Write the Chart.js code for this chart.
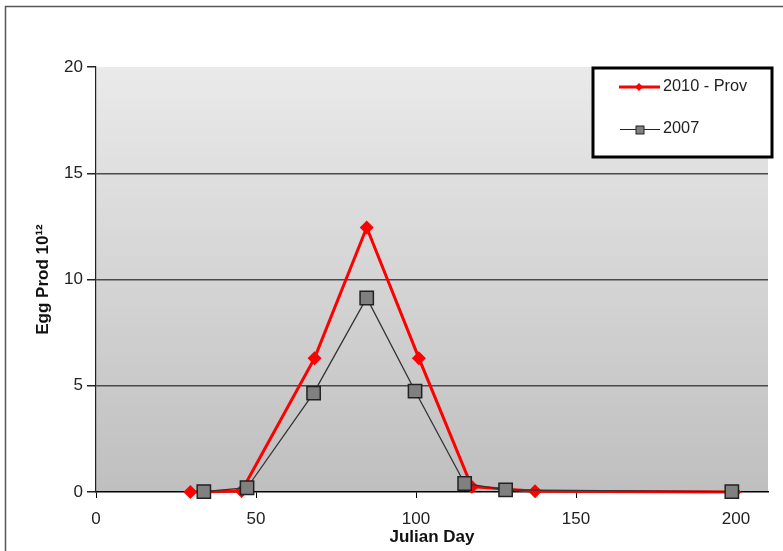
<!DOCTYPE html>
<html>
<head>
<meta charset="utf-8">
<script src="https://cdn.jsdelivr.net/npm/chart.js@4"></script>
<style>
  html, body { margin: 0; padding: 0; background: #fff; }
  #wrap { width: 783px; height: 551px; position: relative; }
</style>
</head>
<body>
<div id="wrap"><canvas id="chart" width="783" height="551"></canvas></div>
<script>
// dati
const days2010 = [29.5, 45.5, 68.3, 84.6, 100.9, 117.4, 137.2, 199.5];
const eggs2010 = [0.0, 0.05, 6.3, 12.45, 6.3, 0.25, 0.03, 0.0];
const days2007 = [33.7, 47.2, 68.0, 84.6, 99.7, 115.2, 128.0, 198.7];
const eggs2007 = [0.02, 0.2, 4.65, 9.13, 4.75, 0.4, 0.1, 0.02];
const xTickVals = [0, 50, 100, 150, 200];
const seriesLabels = ['2010 - Prov', '2007'];
const xTitle = 'Julian Day';
const yTitle = 'Egg Prod 10\u00B9\u00B2';

const toPoints = (xs, ys) => xs.map((x, i) => ({ x: x, y: ys[i] }));

const fontFam = '"Liberation Sans", Arial, sans-serif';

// sfondo sfumato dell'area del grafico + bordo esterno
const backdrop = {
    id: 'backdrop',
    beforeDraw(chart) {
        const { ctx, chartArea: a } = chart;
        ctx.save();
        const g = ctx.createLinearGradient(0, a.top, 0, a.bottom);
        g.addColorStop(0, '#eaeaea');
        g.addColorStop(1, '#bfbfbf');
        ctx.fillStyle = g;
        ctx.fillRect(a.left, a.top, a.right - a.left, a.bottom - a.top);
        ctx.strokeStyle = '#555';
        ctx.lineWidth = 1.5;
        ctx.strokeRect(5.5, 6.5, 820, 600);
        ctx.restore();
    }
};

// legenda disegnata a mano (riquadro nero spesso)
const boxLegend = {
    id: 'boxLegend',
    afterDraw(chart) {
        const ctx = chart.ctx;
        ctx.save();
        ctx.fillStyle = '#fff';
        ctx.fillRect(593, 68, 179, 89);
        ctx.strokeStyle = '#000';
        ctx.lineWidth = 3;
        ctx.strokeRect(593, 68, 179, 89);

        // 2010
        ctx.strokeStyle = '#ff0000';
        ctx.lineWidth = 3;
        ctx.beginPath(); ctx.moveTo(619, 87); ctx.lineTo(660, 87); ctx.stroke();
        ctx.fillStyle = '#ff0000';
        ctx.beginPath();
        ctx.moveTo(639, 83); ctx.lineTo(643, 87); ctx.lineTo(639, 91); ctx.lineTo(635, 87);
        ctx.closePath(); ctx.fill();

        // 2007
        ctx.strokeStyle = '#222';
        ctx.lineWidth = 1;
        ctx.beginPath(); ctx.moveTo(620, 129.5); ctx.lineTo(660, 129.5); ctx.stroke();
        ctx.fillStyle = '#808080';
        ctx.fillRect(636, 126, 8, 8);
        ctx.strokeRect(636, 126, 8, 8);

        ctx.fillStyle = '#222';
        ctx.font = '16.3px ' + fontFam;
        ctx.textBaseline = 'middle';
        ctx.fillText(seriesLabels[0], 663, 87);
        ctx.fillText(seriesLabels[1], 663, 129);
        ctx.restore();
    }
};

new Chart(document.getElementById('chart'), {
    type: 'line',
    data: {
        datasets: [
            {
                label: seriesLabels[0],
                data: toPoints(days2010, eggs2010),
                borderColor: '#ff0000',
                backgroundColor: '#ff0000',
                borderWidth: 3,
                pointStyle: 'rectRot',
                pointRadius: 7,
                pointBorderWidth: 0,
                tension: 0,
                clip: false,
                order: 2
            },
            {
                label: seriesLabels[1],
                data: toPoints(days2007, eggs2007),
                borderColor: '#333',
                backgroundColor: '#808080',
                borderWidth: 1.3,
                pointStyle: 'rect',
                pointRadius: 9.4,
                pointBorderColor: '#222',
                pointBorderWidth: 1.5,
                tension: 0,
                clip: false,
                order: 1
            }
        ]
    },
    options: {
        responsive: false,
        animation: false,
        layout: { padding: { left: 0, top: 67, right: 15, bottom: 0 } },
        plugins: {
            legend: { display: false },
            tooltip: { enabled: false }
        },
        scales: {
            x: {
                type: 'linear',
                min: 0,
                max: 210,
                afterFit: s => { s.height = 59; },
                afterBuildTicks: s => { s.ticks = xTickVals.map(v => ({ value: v })); },
                border: { display: true, color: '#000', width: 1.5 },
                grid: { drawOnChartArea: false, drawTicks: true, tickLength: 6, tickColor: '#000' },
                ticks: { color: '#222', padding: 11, maxRotation: 0, autoSkip: false, font: { family: fontFam, size: 17 } },
                title: {
                    display: true, text: xTitle, color: '#111',
                    font: { family: fontFam, size: 17, weight: 'bold' },
                    padding: { top: 0, bottom: 3 }
                }
            },
            y: {
                min: 0,
                max: 20,
                afterFit: s => { s.width = 96; },
                border: { display: true, color: '#222', width: 1.2 },
                grid: {
                    color: c => (c.tick && (c.tick.value === 0 || c.tick.value === 20)) ? 'rgba(0,0,0,0)' : '#4a4a4a',
                    lineWidth: 1.5,
                    tickLength: 9,
                    tickColor: '#222'
                },
                ticks: { stepSize: 5, color: '#222', padding: 4, font: { family: fontFam, size: 17 } },
                title: {
                    display: true, text: yTitle, color: '#111',
                    font: { family: fontFam, size: 17, weight: 'bold' },
                    padding: { top: 33, bottom: 0 }
                }
            }
        }
    },
    plugins: [backdrop, boxLegend]
});
</script>
</body>
</html>
